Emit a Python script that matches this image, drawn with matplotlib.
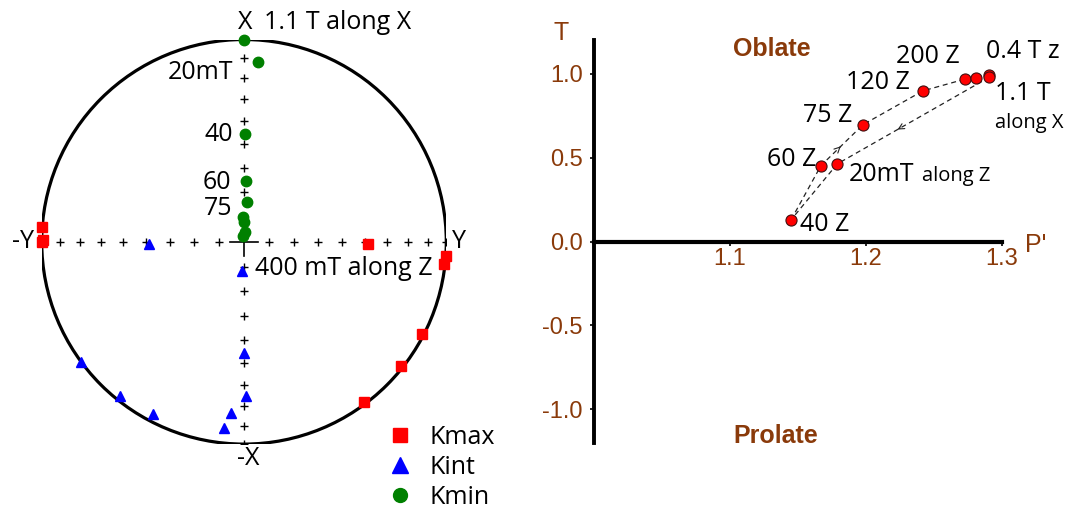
import numpy as np
import matplotlib
matplotlib.use("Agg")
import matplotlib.pyplot as plt
from matplotlib.lines import Line2D

plt.rcParams['font.family'] = ['Open Sans', 'DejaVu Sans']
plt.rcParams['axes.unicode_minus'] = False

# stereonet: principal susceptibility axes (trend, plunge in degrees)
kmax_trend = [274.2, 270.0, 270.5, 90.9, 94.1, 96.2, 117.3, 128.3, 143.1]
kmax_plunge = [0.0, 0.0, 0.5, 38.7, 0.0, 0.5, 1.0, 1.0, 1.0]
kint_trend = [268.8, 183.1, 180.0, 179.1, 184.5, 186.1, 207.8, 218.7, 233.6]
kint_plunge = [51.1, 78.2, 44.4, 24.7, 16.1, 8.4, 4.1, 2.6, 0.0]
kmin_trend = [0.0, 4.3, 0.4, 2.3, 3.9, 357.0, 1.0, 5.0, 348.0]
kmin_plunge = [0.0, 11.9, 45.6, 65.5, 74.0, 79.9, 82.1, 85.9, 87.6]
kmin_labels = ['1.1 T along X', '20mT', '40', '60', '75', '', '', '', '']

# Jelinek plot: P' vs T for each AF step
steps = ['20mT along Z', '40 Z', '60 Z', '75 Z', '120 Z', '200 Z', '', '0.4 T z', '1.1 T along X']
p_prime = [1.179, 1.145, 1.167, 1.198, 1.242, 1.273, 1.281, 1.291, 1.291]
t_shape = [0.462, 0.129, 0.452, 0.696, 0.897, 0.967, 0.976, 0.994, 0.979]
up_path = [1, 2, 3, 4, 5, 6, 7]
back_path = [8, 0, 1]

brown = '#8a3a0a'
W, H = 1074, 508


def project(trend, plunge):
    t = np.radians(np.asarray(trend))
    p = np.radians(np.asarray(plunge))
    r = np.sqrt(2) * np.sin((np.pi / 2 - p) / 2)
    return r * np.sin(t), r * np.cos(t)


fig = plt.figure(figsize=(W / 100, H / 100), dpi=100)

# ---- left: equal-area stereonet ----
cx, cy, R = 244, 241.8, 202.3
ax1 = fig.add_axes([(cx - R) / W, (H - cy - R) / H, 2 * R / W, 2 * R / H])
ax1.set_xlim(-1, 1)
ax1.set_ylim(-1, 1)
ax1.axis('off')

ax1.add_patch(plt.Circle((0, 0), 1, fill=False, lw=2.3, color='black', zorder=2))
rr = np.sqrt(2) * np.sin(np.radians(np.arange(10, 91, 10)) / 2)
ax1.plot(np.r_[rr, -rr], np.zeros(2 * len(rr)), '+', color='black', ms=5.5, mew=1, zorder=1)
ax1.plot(np.zeros(2 * len(rr)), np.r_[rr, -rr], '+', color='black', ms=5.5, mew=1, zorder=1)
ax1.plot([-0.07, 0.07], [0, 0], color='black', lw=1.2)
ax1.plot([0, 0], [-0.07, 0.07], color='black', lw=1.2)

x, y = project(kmax_trend, kmax_plunge)
ax1.plot(x, y, 's', color='red', ms=7.5, ls='', zorder=4, clip_on=False)
x, y = project(kint_trend, kint_plunge)
ax1.plot(x, y, '^', color='blue', ms=7.5, ls='', zorder=4, clip_on=False)
x, y = project(kmin_trend, kmin_plunge)
ax1.plot(x, y, 'o', color='green', ms=7.5, ls='', zorder=4, clip_on=False)

fs = 18
ax1.text(0.005, 1.086, 'X', fontsize=fs, ha='center', va='center')
ax1.text(0.10, 1.086, kmin_labels[0], fontsize=fs, ha='left', va='center')
ax1.text(-0.054, 0.838, kmin_labels[1], fontsize=fs, ha='right', va='center')
ax1.text(-0.054, 0.532, kmin_labels[2], fontsize=fs, ha='right', va='center')
ax1.text(-0.064, 0.295, kmin_labels[3], fontsize=fs, ha='right', va='center')
ax1.text(-0.059, 0.167, kmin_labels[4], fontsize=fs, ha='right', va='center')
ax1.text(-1.037, 0, '-Y', fontsize=fs, ha='right', va='center')
ax1.text(1.026, 0, 'Y', fontsize=fs, ha='left', va='center')
ax1.text(0.02, -1.07, '-X', fontsize=fs, ha='center', va='center')
ax1.text(0.054, -0.13, '400 mT along Z', fontsize=fs, ha='left', va='center')

handles = [Line2D([], [], marker='s', color='red', ls='', ms=10),
           Line2D([], [], marker='^', color='blue', ls='', ms=11),
           Line2D([], [], marker='o', color='green', ls='', ms=10)]
fig.legend(handles, ['Kmax', 'Kint', 'Kmin'], loc='upper left',
           bbox_to_anchor=(387 / W, 1 - 425 / H), frameon=False, fontsize=18,
           handlelength=1.0, handletextpad=0.7, labelspacing=0.2, borderpad=0,
           borderaxespad=0)

# ---- right: P' - T plot ----
ax2 = fig.add_axes([594 / W, (H - 443) / H, (1001.7 - 594) / W, (443 - 40) / H])
ax2.set_xlim(1.0, 1.3)
ax2.set_ylim(-1.2, 1.2)
for s in ['top', 'right']:
    ax2.spines[s].set_visible(False)
ax2.spines['left'].set_linewidth(2.8)
ax2.spines['bottom'].set_linewidth(3)
ax2.spines['bottom'].set_position(('data', 0))
ax2.set_xticks([1.1, 1.2, 1.3])
ax2.set_xticklabels(['1.1', '1.2', '1.3'])
ax2.set_yticks([-1.0, -0.5, 0.0, 0.5, 1.0])
ax2.set_yticklabels(['-1.0', '-0.5', '0.0', '0.5', '1.0'])
ax2.tick_params(direction='out', length=3, width=1.2, labelsize=17, labelcolor=brown)
ax2.tick_params(axis='x', pad=2)
ax2.tick_params(axis='y', pad=5)
for lbl in ax2.get_xticklabels() + ax2.get_yticklabels():
    lbl.set_fontfamily('Liberation Sans')

ax2.text(0.976, 1.24, 'T', fontsize=18, color=brown, family='Liberation Sans', ha='center', va='center')
ax2.text(1.3174, -0.02, "P'", fontsize=18, color=brown, family='Liberation Sans', ha='left', va='center')
ax2.text(1.1305, 1.145, 'Oblate', fontsize=18, color=brown, family='Liberation Sans',
         weight='bold', ha='center', va='center')
ax2.text(1.1335, -1.158, 'Prolate', fontsize=18, color=brown, family='Liberation Sans',
         weight='bold', ha='center', va='center')

pp = np.array(p_prime)
tt = np.array(t_shape)
dash = dict(color='#222222', lw=0.9, ls=(0, (4, 3)), zorder=2)
ax2.plot(pp[up_path], tt[up_path], **dash)
ax2.plot(pp[back_path], tt[back_path], **dash)
ax2.plot(pp, tt, 'o', ms=8, mfc='red', mec='#401010', mew=0.8, ls='', zorder=3, clip_on=False)


def head(i, j, frac):
    tip = (pp[i] + frac * (pp[j] - pp[i]), tt[i] + frac * (tt[j] - tt[i]))
    tail = (tip[0] - 0.05 * (pp[j] - pp[i]), tip[1] - 0.05 * (tt[j] - tt[i]))
    ax2.annotate('', xy=tip, xytext=tail,
                 arrowprops=dict(arrowstyle='->', lw=0.8, color='#222222', mutation_scale=10))


head(2, 3, 0.47)
head(8, 0, 0.62)

ax2.text(1.2224, 1.099, steps[5], fontsize=fs, ha='left', va='center')
ax2.text(1.2324, 0.945, steps[4], fontsize=fs, ha='right', va='center')
ax2.text(1.1898, 0.752, steps[3], fontsize=fs, ha='right', va='center')
ax2.text(1.1635, 0.489, steps[2], fontsize=fs, ha='right', va='center')
ax2.text(1.1515, 0.099, steps[1], fontsize=fs, ha='left', va='center')
ax2.text(1.2888, 1.129, steps[7], fontsize=fs, ha='left', va='center')
ax2.text(1.1873, 0.360, '20mT', fontsize=fs, ha='left', va='baseline')
ax2.text(1.2417, 0.360, 'along Z', fontsize=14.5, ha='left', va='baseline')
ax2.text(1.295, 0.881, '1.1 T', fontsize=fs, ha='left', va='center')
ax2.text(1.295, 0.703, 'along X', fontsize=14.5, ha='left', va='center')

fig.savefig('out.png', dpi=100)
